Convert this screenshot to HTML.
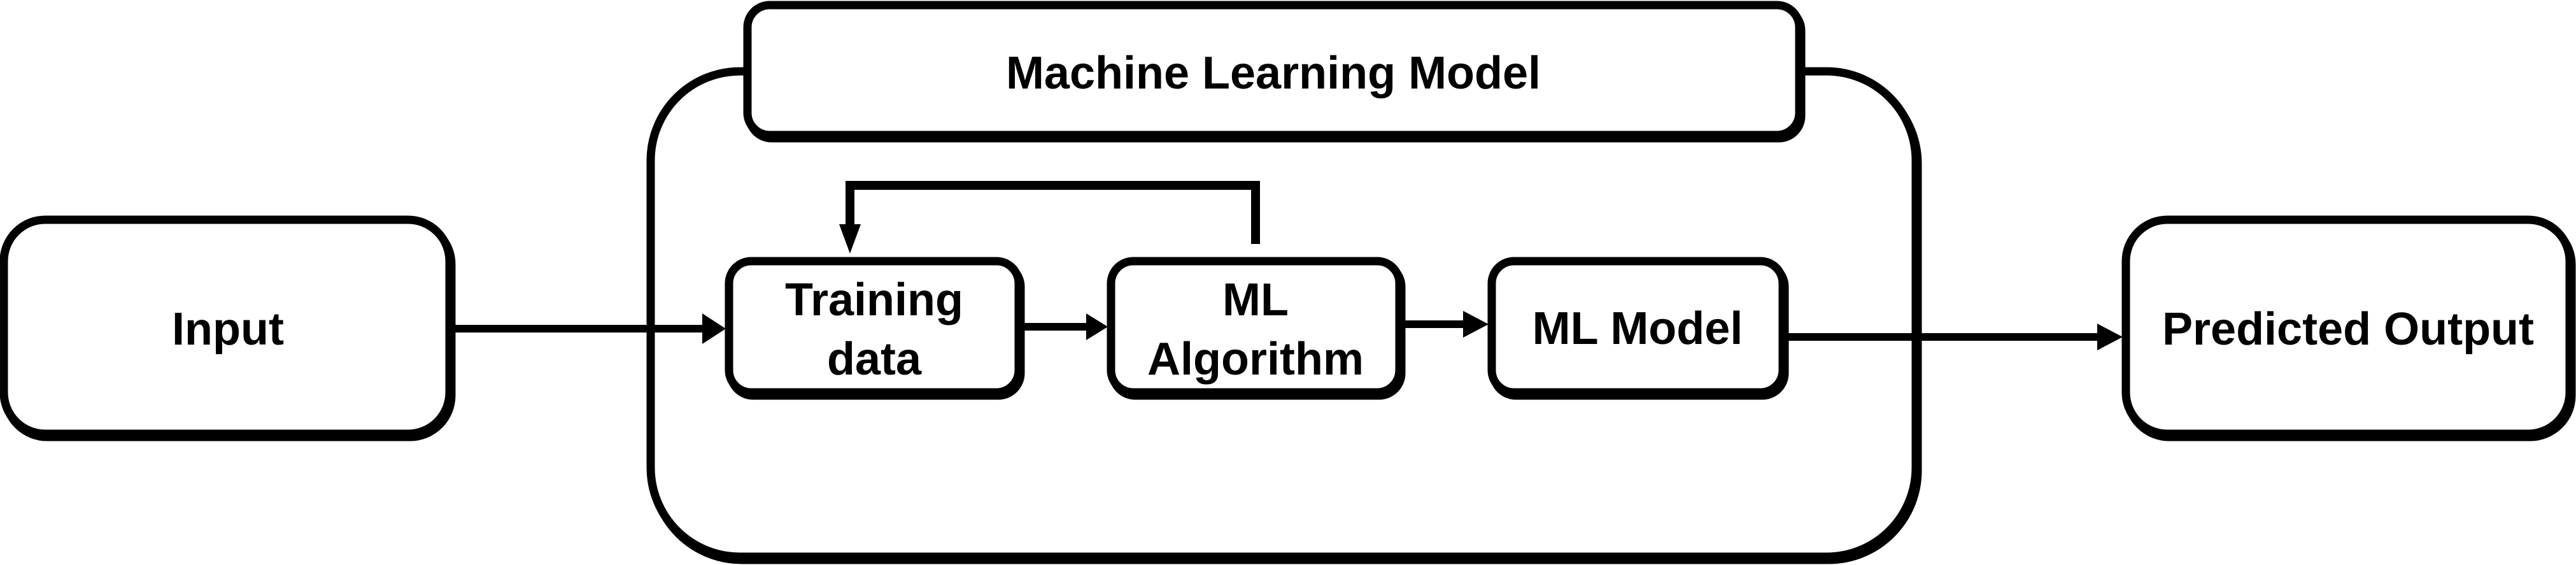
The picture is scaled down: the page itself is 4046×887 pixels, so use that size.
<!DOCTYPE html>
<html><head><meta charset="utf-8"><style>
html,body{margin:0;padding:0;background:#fff;}
svg{display:block;}
text{font-family:"Liberation Sans",sans-serif;font-weight:bold;font-size:72px;fill:#000;text-anchor:middle;}
</style></head><body>
<svg width="4046" height="887" viewBox="0 0 4046 887" xmlns="http://www.w3.org/2000/svg">
<g fill="#fff" stroke="#000" stroke-width="13">
  <!-- shadows -->
  <g transform="translate(3,5)">
    <rect x="6" y="345" width="700" height="336" rx="65"/>
    <rect x="1022" y="112" width="1987" height="762" rx="140"/>
    <rect x="3339" y="345" width="697" height="336" rx="65"/>
  </g>
  <rect x="6" y="345" width="700" height="336" rx="65"/>
  <rect x="1022" y="112" width="1987" height="762" rx="140"/>
  <rect x="3339" y="345" width="697" height="336" rx="65"/>
  <g transform="translate(3,5)">
    <rect x="1174" y="8" width="1652" height="204" rx="35"/>
    <rect x="1145" y="410" width="455" height="206" rx="35"/>
    <rect x="1745" y="410" width="453" height="206" rx="35"/>
    <rect x="2343" y="410" width="457" height="206" rx="35"/>
  </g>
  <rect x="1174" y="8" width="1652" height="204" rx="35"/>
  <rect x="1145" y="410" width="455" height="206" rx="35"/>
  <rect x="1745" y="410" width="453" height="206" rx="35"/>
  <rect x="2343" y="410" width="457" height="206" rx="35"/>
</g>
<g stroke="#000" stroke-width="12" fill="none">
  <line x1="712" y1="516" x2="1108" y2="516"/>
  <line x1="1606" y1="513" x2="1710" y2="513"/>
  <line x1="2204" y1="509" x2="2300" y2="509"/>
  <line x1="2806" y1="529" x2="3298" y2="529"/>
  <polyline points="1972,383 1972,291 1335,291 1335,358" stroke-width="14"/>
</g>
<g fill="#000">
  <polygon points="1103,492 1140,516 1103,540"/>
  <polygon points="1706,492 1740,513 1706,534"/>
  <polygon points="2298,488 2338,509 2298,530"/>
  <polygon points="3294,508 3334,529 3294,550"/>
  <polygon points="1318,352 1352,352 1335,398"/>
</g>
<text x="358" y="541">Input</text>
<text x="3688" y="541">Predicted Output</text>
<text x="2000" y="139">Machine Learning Model</text>
<text x="1373" y="495">Training</text>
<text x="1373" y="588">data</text>
<text x="1972" y="495">ML</text>
<text x="1972" y="588">Algorithm</text>
<text x="2572" y="540">ML Model</text>
</svg>
</body></html>
